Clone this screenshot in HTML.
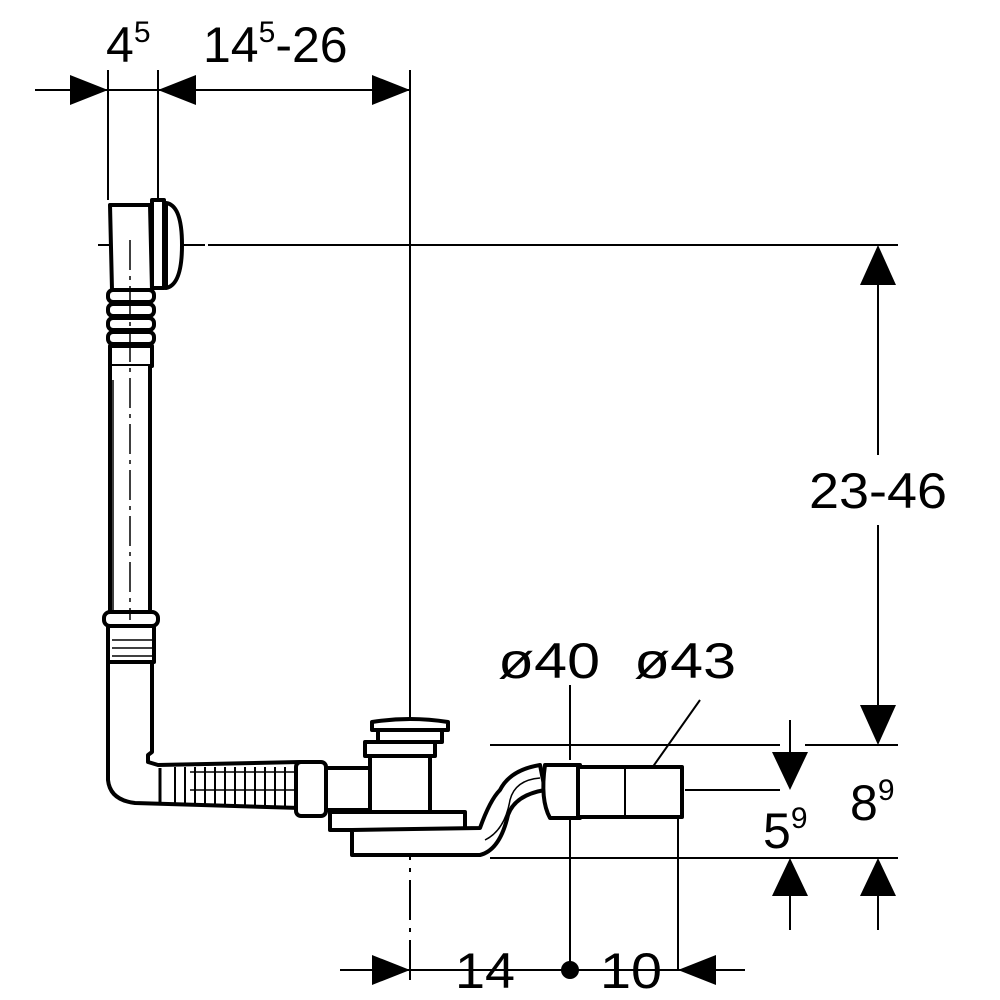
<!DOCTYPE html>
<html><head><style>html,body{margin:0;padding:0;background:#fff}svg{display:block}</style></head><body>
<svg width="1000" height="1000" viewBox="0 0 1000 1000" xmlns="http://www.w3.org/2000/svg" font-family="Liberation Sans, sans-serif">
<g stroke="#000" stroke-width="2" fill="none">
<line x1="35" y1="90" x2="410" y2="90"/>
<line x1="108" y1="70" x2="108" y2="200"/>
<line x1="158" y1="70" x2="158" y2="200"/>
<line x1="410" y1="70" x2="410" y2="700"/>
<line x1="410" y1="700" x2="410" y2="985" stroke-dasharray="40,8,4,8"/>
<line x1="208" y1="245" x2="898" y2="245"/>
<line x1="98" y1="245" x2="205" y2="245" stroke-dasharray="60,8,4,8"/>
<line x1="878" y1="285" x2="878" y2="455"/>
<line x1="878" y1="525" x2="878" y2="705"/>
<line x1="490" y1="745" x2="780" y2="745"/>
<line x1="805" y1="745" x2="898" y2="745"/>
<line x1="685" y1="790" x2="780" y2="790"/>
<line x1="490" y1="858" x2="898" y2="858"/>
<line x1="790" y1="720" x2="790" y2="755"/>
<line x1="790" y1="895" x2="790" y2="930"/>
<line x1="878" y1="895" x2="878" y2="930"/>
<line x1="340" y1="970" x2="745" y2="970"/>
<line x1="570" y1="820" x2="570" y2="970"/>
<line x1="678" y1="790" x2="678" y2="970"/>
<line x1="570" y1="685" x2="570" y2="760"/>
<line x1="700" y1="700" x2="640" y2="785"/>
</g>
<g fill="#000">
<polygon points="70,75 108,90 70,105"/>
<polygon points="196,75 158,90 196,105"/>
<polygon points="372,75 410,90 372,105"/>
<polygon points="878,245 860,285 896,285"/>
<polygon points="878,745 860,705 896,705"/>
<polygon points="790,790 772,752 808,752"/>
<polygon points="790,858 772,896 808,896"/>
<polygon points="878,858 860,896 896,896"/>
<polygon points="372,955 410,970 372,985"/>
<polygon points="716,955 678,970 716,985"/>
<circle cx="570" cy="970" r="9"/>
</g>
<g font-size="50" fill="#000">
<text x="106" y="62">4<tspan font-size="30" dy="-20">5</tspan></text>
<text x="203" y="62">14<tspan font-size="30" dy="-20">5</tspan><tspan dy="20">-26</tspan></text>
<text x="878" y="508" text-anchor="middle" textLength="138" lengthAdjust="spacingAndGlyphs">23-46</text>
<text x="763" y="848">5<tspan font-size="30" dy="-20">9</tspan></text>
<text x="850" y="820">8<tspan font-size="30" dy="-20">9</tspan></text>
<text x="455" y="988" textLength="60" lengthAdjust="spacingAndGlyphs">14</text>
<text x="600" y="988" textLength="62" lengthAdjust="spacingAndGlyphs">10</text>
<text x="498" y="678" textLength="102" lengthAdjust="spacingAndGlyphs">ø40</text>
<text x="634" y="678" textLength="102" lengthAdjust="spacingAndGlyphs">ø43</text>
</g>
<g stroke="#000" stroke-width="4" fill="#fff" stroke-linejoin="round">
<path d="M110,205 L150,205 L152,290 L112,290 Z"/>
<rect x="152" y="200" width="12" height="88"/>
<path d="M166,203 Q182,205 182,245 Q182,285 166,288 Z"/>
<rect x="108" y="290" width="46" height="12" rx="5"/>
<rect x="108" y="304" width="46" height="12" rx="5"/>
<rect x="108" y="318" width="46" height="12" rx="5"/>
<rect x="108" y="332" width="46" height="12" rx="5"/>
<rect x="110" y="346" width="42" height="20"/>
<path d="M110,366 L110,620 L150,620 L150,366"/>
<rect x="104" y="612" width="54" height="14" rx="6"/>
<rect x="108" y="626" width="46" height="36"/>
<path d="M108,662 L108,780 Q110,800 135,803 L300,808 L300,762 L158,765 L148,762 L148,755 L152,752 L152,662 Z"/>
<line x1="160" y1="768" x2="160" y2="802" stroke-width="3"/>
<rect x="296" y="762" width="30" height="54" rx="5"/>
<path d="M326,768 L375,768 L375,810 L326,810 Z"/>
<rect x="370" y="755" width="60" height="58"/>
<rect x="365" y="742" width="70" height="14"/>
<path d="M372,722 Q410,716 448,722 L448,730 L372,730 Z"/>
<rect x="378" y="730" width="64" height="12"/>
<path d="M330,812 L465,812 L465,830 L330,830 Z"/>
<path d="M352,830 L480,828 Q490,800 500,790 Q510,770 540,765 L545,790 Q515,795 508,815 Q500,850 480,855 L352,855 Z"/>
<path d="M545,765 L580,765 L580,818 L550,818 Q540,800 545,765 Z"/>
<rect x="578" y="767" width="104" height="50"/>
<line x1="625" y1="767" x2="625" y2="817" stroke-width="2"/>
</g>
<g stroke="#000" stroke-width="1.5">
<line x1="113" y1="380" x2="113" y2="610"/>
<line x1="130" y1="240" x2="130" y2="620" stroke-dasharray="30,6,4,6"/>
<line x1="190" y1="772" x2="296" y2="772"/>
<line x1="190" y1="790" x2="296" y2="790"/>
<g stroke-width="2">
<line x1="175" y1="767" x2="175" y2="806"/><line x1="185" y1="767" x2="185" y2="806"/>
<line x1="195" y1="767" x2="195" y2="806"/><line x1="205" y1="767" x2="205" y2="806"/>
<line x1="215" y1="767" x2="215" y2="806"/><line x1="225" y1="767" x2="225" y2="806"/>
<line x1="235" y1="767" x2="235" y2="806"/><line x1="245" y1="767" x2="245" y2="806"/>
<line x1="255" y1="767" x2="255" y2="806"/><line x1="265" y1="767" x2="265" y2="806"/>
<line x1="275" y1="767" x2="275" y2="806"/><line x1="285" y1="767" x2="285" y2="806"/>
</g>
<line x1="112" y1="640" x2="152" y2="640"/><line x1="112" y1="648" x2="152" y2="648"/><line x1="112" y1="656" x2="152" y2="656"/>
<path d="M485,840 Q505,830 510,800 Q515,780 540,778" fill="none"/>
</g>
</svg>
</body></html>
